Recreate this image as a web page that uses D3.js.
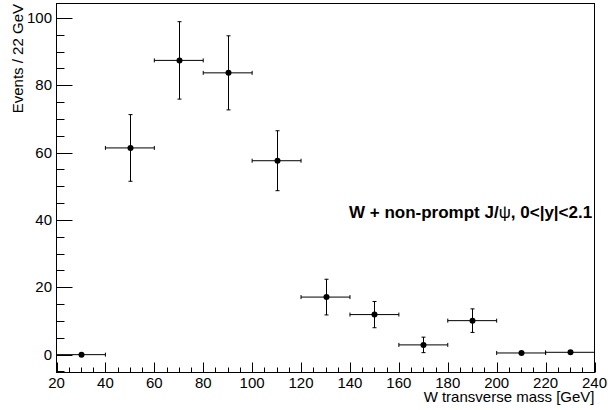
<!DOCTYPE html>
<html>
<head>
<meta charset="utf-8">
<script src="https://cdn.jsdelivr.net/npm/d3@7"></script>
<style>
  body { margin: 0; background: white; }
  svg { display: block; }
  text { font-family: "Liberation Sans", Arial, Helvetica, sans-serif; fill: #000; }
</style>
</head>
<body>
<div id="chart"></div>
<script>
// Histogram data
const binCenters = [30, 50, 70, 90, 110, 130, 150, 170, 190, 210, 230];
const counts     = [0, 61.4, 87.4, 83.7, 57.6, 17.1, 11.9, 2.9, 10.1, 0.5, 0.7];
const errors     = [0, 9.9, 11.5, 11.0, 8.9, 5.3, 3.9, 2.3, 3.5, 0.6, 0.3];
const binHalfWidth = 10;

const xTicks = [20, 40, 60, 80, 100, 120, 140, 160, 180, 200, 220, 240];
const yTicks = [0, 20, 40, 60, 80, 100];

const config = {
  width  : 608,
  height : 410,
  left   : 56.5,
  right  : 594.5,
  top    : 3.5,
  bottom : 372.5,
  xDomain: [20, 240],
  yDomain: [-5.3, 104.3],
  fontSize: 15
};

const svg = d3.select("#chart")
  .append("svg")
    .attr("width", config.width)
    .attr("height", config.height);

const x = d3.scaleLinear().domain(config.xDomain).range([config.left, config.right]);
const y = d3.scaleLinear().domain(config.yDomain).range([config.bottom, config.top]);

// frame
svg.append("rect")
  .attr("x", config.left)
  .attr("y", config.top)
  .attr("width", config.right - config.left)
  .attr("height", config.bottom - config.top)
  .attr("fill", "none")
  .attr("stroke", "#000")
  .attr("stroke-width", 1);

// x axis ticks (inside, pointing up)
const xMinor = d3.range(20, 241, 5);
svg.append("g").selectAll("line")
  .data(xMinor)
  .enter().append("line")
    .attr("x1", d => Math.round(x(d)) + 0.5)
    .attr("x2", d => Math.round(x(d)) + 0.5)
    .attr("y1", config.bottom)
    .attr("y2", d => config.bottom - (d % 20 === 0 ? 10 : 5))
    .attr("stroke", "#000");

svg.append("g").selectAll("text")
  .data(xTicks)
  .enter().append("text")
    .attr("x", d => x(d))
    .attr("y", 388)
    .attr("text-anchor", "middle")
    .style("font-size", config.fontSize + "px")
    .text(d => d);

// y axis ticks (inside, pointing right)
const yMinor = d3.range(-5, 104, 5);
svg.append("g").selectAll("line")
  .data(yMinor)
  .enter().append("line")
    .attr("y1", d => Math.round(y(d)) + 0.5)
    .attr("y2", d => Math.round(y(d)) + 0.5)
    .attr("x1", config.left)
    .attr("x2", d => config.left + (d % 20 === 0 ? 16 : 8))
    .attr("stroke", "#000");

svg.append("g").selectAll("text")
  .data(yTicks)
  .enter().append("text")
    .attr("x", 52)
    .attr("y", d => y(d) + 5)
    .attr("text-anchor", "end")
    .style("font-size", config.fontSize + "px")
    .text(d => d);

// axis titles
svg.append("text")
  .attr("x", config.right)
  .attr("y", 402)
  .attr("text-anchor", "end")
  .style("font-size", config.fontSize + "px")
  .text("W transverse mass [GeV]");

svg.append("text")
  .attr("transform", "translate(23,4) rotate(-90)")
  .attr("text-anchor", "end")
  .style("font-size", config.fontSize + "px")
  .text("Events / 22 GeV");

// data points with error bars
const points = binCenters.map((c, i) => ({ x: c, y: counts[i], e: errors[i] }));
const cap = 2;
const g = svg.append("g").attr("stroke", "#000").attr("stroke-width", 1);

points.forEach(function (d) {
  const cx = Math.round(x(d.x)) + 0.5;
  const cy = y(d.y);
  const xl = x(d.x - binHalfWidth), xr = x(d.x + binHalfWidth);
  // horizontal bar
  g.append("line").attr("x1", xl).attr("x2", xr).attr("y1", cy).attr("y2", cy);
  g.append("line").attr("x1", xl).attr("x2", xl).attr("y1", cy - cap).attr("y2", cy + cap);
  g.append("line").attr("x1", xr).attr("x2", xr).attr("y1", cy - cap).attr("y2", cy + cap);
  if (d.e > 0) {
    const yt = y(d.y + d.e), yb = y(d.y - d.e);
    g.append("line").attr("x1", cx).attr("x2", cx).attr("y1", yt).attr("y2", yb);
    if (d.e > 1) {
      g.append("line").attr("x1", cx - cap).attr("x2", cx + cap).attr("y1", yt).attr("y2", yt);
      g.append("line").attr("x1", cx - cap).attr("x2", cx + cap).attr("y1", yb).attr("y2", yb);
    }
  }
  g.append("circle").attr("cx", cx).attr("cy", cy).attr("r", 3).attr("fill", "#000").attr("stroke", "none");
});

// label
const label = svg.append("text")
  .attr("x", 349)
  .attr("y", 218)
  .style("font-size", "17px")
  .style("font-weight", "bold");
label.append("tspan").text("W + non-prompt J/");
label.append("tspan").style("font-weight", "normal").text("ψ");
label.append("tspan").text(", 0<|y|<2.1");
</script>
</body>
</html>
